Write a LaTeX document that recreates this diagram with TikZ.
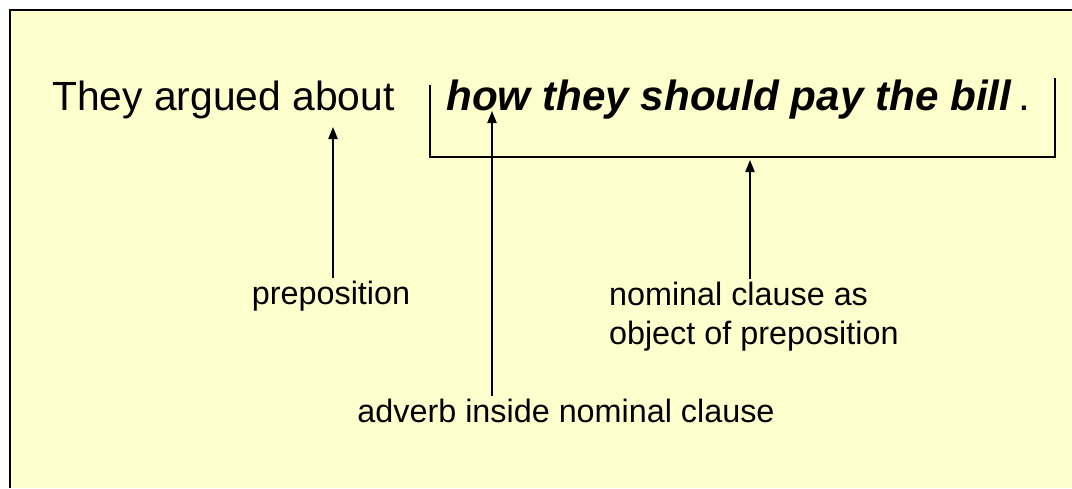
\documentclass[tikz,border=0pt]{standalone}
\usepackage{fontspec}
\setmainfont{Liberation Sans}
\usetikzlibrary{positioning,arrows.meta}
\definecolor{notepaper}{RGB}{255,255,206}
\tikzset{
  sentence/.style={inner sep=0pt,anchor=base west,font=\fontsize{29}{34}\selectfont},
  gloss/.style={inner sep=2pt,align=left,font=\fontsize{23}{27.5}\selectfont},
  pointer/.style={-{Triangle[length=3mm,width=2.3mm]},line width=1.2pt},
  bracket/.style={line width=1.2pt}
}

\begin{document}
\begin{tikzpicture}[x=0.025cm,y=-0.025cm]
  \useasboundingbox (0,0) rectangle (1072,488);
  % paper and frame
  \fill[notepaper] (10,10) rectangle (1072,488);
  \draw[line width=1.4pt] (10,488) -- (10,10) -- (1072,10);
  % the sentence
  \node[sentence] (main) at (52,110) {They argued about};
  \node[sentence,font=\fontsize{30}{34}\selectfont] (clause) at (446,110) {\textbf{\textit{how they should pay the bill}}\,.};
  \draw[bracket] (430,85) |- (1055,157) -- (1055,78);
  % labels
  \node[gloss] (prep) at (331,296) {preposition};
  \node[gloss,anchor=north west] (nom) at (606,279) {nominal clause as\\object of preposition};
  \node[gloss] (adv) at (566,411) {adverb inside nominal clause};
  \coordinate (preptip) at (333,127);
  \coordinate (advtip) at (492,111);
  \coordinate (nomtip) at (750,160);
  \draw[pointer] (prep.north -| preptip) -- (preptip);
  \draw[pointer] (adv.north -| advtip) -- (advtip);
  \draw[pointer] (nom.north -| nomtip) -- (nomtip);
\end{tikzpicture}
\end{document}
